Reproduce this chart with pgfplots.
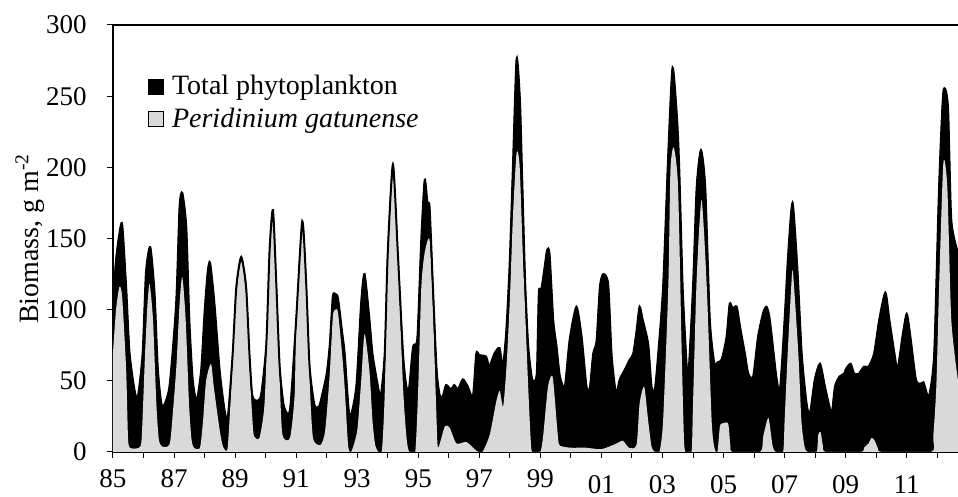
\documentclass[border=0pt]{standalone}
\usepackage{fontspec}
\setmainfont{Liberation Serif}
\usepackage{pgfplots}
\usepackage{pgfplotstable}
\pgfplotsset{compat=1.18}
\definecolor{peri}{RGB}{217,217,217}

\pgfplotstableread{
x y
85.00 105
85.10 135
85.20 152
85.30 160
85.43 116
85.54 70
85.70 44
85.81 38
85.97 69
86.08 126
86.22 144
86.36 112
86.47 58
86.61 32
86.85 46
87.07 105
87.18 172
87.27 182
87.40 158
87.50 93
87.61 51
87.74 36
87.89 58
88.00 98
88.10 126
88.18 133
88.32 105
88.49 58
88.65 30
88.76 24
88.92 69
89.04 116
89.20 137
89.36 116
89.47 69
89.56 40
89.70 36
89.85 40
90.02 75
90.13 142
90.24 170
90.35 118
90.46 60
90.60 32
90.80 30
91.00 93
91.20 162
91.33 118
91.44 60
91.60 33
91.75 32
91.85 40
92.00 55
92.10 75
92.20 109
92.28 111
92.37 108
92.50 85
92.59 69
92.75 25
92.97 46
93.13 105
93.24 125
93.40 93
93.50 69
93.68 46
93.77 39
93.90 69
94.00 140
94.17 202
94.33 140
94.50 69
94.61 46
94.70 45
94.83 74
94.97 80
95.10 150
95.21 191
95.30 175
95.37 172
95.48 116
95.60 58
95.70 40
95.80 39
95.91 47
96.07 44
96.18 47
96.30 44
96.46 51
96.62 46
96.79 39
96.90 69
97.00 68
97.22 67
97.33 60
97.49 69
97.66 73
97.77 60
97.88 84
97.99 130
98.10 200
98.22 276
98.33 247
98.40 195
98.50 120
98.60 75
98.72 52
98.82 50
98.89 58
98.95 112
99.03 114
99.14 130
99.22 142
99.30 139
99.42 93
99.53 74
99.64 53
99.80 46
99.96 79
100.18 102
100.35 81
100.51 46
100.62 45
100.73 69
100.84 78
100.95 116
101.06 125
101.22 118
101.33 69
101.44 46
101.50 41
101.60 51
101.77 58
101.93 65
102.04 69
102.15 85
102.25 102
102.35 93
102.53 76
102.64 46
102.75 44
102.86 69
103.02 116
103.19 210
103.33 270
103.48 233
103.55 198
103.66 116
103.77 69
103.84 51
104.00 116
104.12 186
104.26 212
104.40 186
104.55 93
104.70 62
104.80 63
104.94 65
105.10 81
105.20 104
105.30 101
105.43 102
105.54 88
105.70 69
105.81 55
105.97 53
106.13 81
106.30 98
106.41 102
106.50 95
106.58 81
106.74 51
106.85 44
107.00 93
107.12 140
107.26 175
107.42 128
107.56 69
107.72 34
107.83 27
107.99 51
108.16 62
108.32 46
108.49 30
108.55 27
108.65 46
108.80 53
108.95 55
109.00 58
109.16 62
109.28 55
109.43 55
109.60 60
109.75 60
109.93 69
110.10 93
110.30 112
110.43 93
110.60 69
110.70 58
110.86 81
111.00 97
111.12 81
111.30 51
111.45 48
111.55 49
111.62 44
111.73 39
111.90 69
112.06 186
112.20 253
112.35 243
112.46 163
112.68 140
}\totaltab

\pgfplotstableread{
x y
85.00 70
85.10 100
85.21 116
85.30 109
85.43 58
85.49 11
85.55 3
85.85 3
85.94 10
86.05 69
86.13 104
86.20 118
86.31 93
86.42 34
86.50 9
86.60 4
86.80 4
86.89 10
87.07 58
87.18 104
87.27 123
87.38 93
87.49 34
87.57 9
87.65 3
87.85 3
87.95 22
88.05 50
88.21 62
88.30 46
88.49 16
88.60 4
88.75 2
88.85 35
88.92 62
89.04 110
89.20 134
89.36 110
89.47 60
89.56 25
89.62 11
89.80 10
89.95 30
90.02 62
90.13 135
90.24 165
90.35 112
90.46 50
90.55 12
90.80 10
90.95 40
91.00 85
91.20 158
91.33 112
91.44 50
91.55 10
91.80 5
91.95 15
92.10 55
92.20 95
92.28 100
92.37 98
92.50 70
92.59 45
92.70 5
92.80 0
93.00 15
93.13 50
93.24 83
93.40 57
93.50 22
93.60 4
93.80 0
93.90 40
94.00 130
94.17 194
94.33 135
94.50 46
94.61 11
94.70 0
94.90 0
95.00 46
95.10 116
95.21 140
95.37 149
95.48 100
95.60 22
95.65 3
95.87 18
96.03 17
96.25 6
96.58 7
96.90 1
97.10 0
97.34 12
97.56 36
97.67 43
97.78 32
97.89 60
98.00 107
98.10 165
98.22 210
98.32 201
98.43 135
98.50 100
98.60 46
98.70 3
98.80 0
99.00 0
99.09 11
99.25 46
99.40 53
99.53 22
99.60 6
99.70 4
100.00 3
100.50 3
101.00 2
101.50 6
101.70 8
101.90 3
102.15 5
102.25 34
102.40 46
102.53 22
102.64 4
102.75 0
102.90 0
103.02 22
103.19 116
103.26 198
103.37 214
103.51 186
103.63 69
103.70 11
103.75 0
103.95 0
104.00 34
104.12 122
104.28 177
104.45 116
104.61 22
104.70 3
104.80 0
104.88 18
104.95 20
105.15 20
105.22 5
105.30 0
106.20 0
106.30 11
106.47 24
106.60 5
106.70 0
106.95 0
107.00 22
107.10 69
107.23 121
107.28 125
107.45 69
107.55 22
107.65 4
107.75 0
108.05 0
108.10 12
108.18 14
108.25 5
108.35 0
109.50 0
109.60 3
109.75 6
109.85 10
109.95 8
110.05 3
110.20 0
111.80 0
111.87 11
111.97 46
112.06 116
112.20 203
112.33 186
112.46 93
112.68 50
}\peritab

\begin{document}
\begin{tikzpicture}
\useasboundingbox (-56.5pt,-22.5pt) rectangle (422.5pt,226pt);
\begin{axis}[
  at={(0pt,0pt)}, anchor=south west,
  scale only axis, width=422.5pt, height=213.5pt,
  xmin=85, xmax=112.68, ymin=0, ymax=300,
  axis x line=box, axis y line=left,
  x axis line style={-}, y axis line style={-},
  axis line style={line width=1pt},
  xtick pos=left, ytick pos=left,
  tick align=outside, major tick length=3pt, minor tick length=3pt,
  tick style={black, line width=0.5pt},
  xtick={85,87,...,111}, minor xtick={86,88,...,112},
  xticklabels={85,87,89,91,93,95,97,99,\raisebox{-3pt}[\height][0pt]{01},\raisebox{-3pt}[\height][0pt]{03},\raisebox{-3pt}[\height][0pt]{05},\raisebox{-3pt}[\height][0pt]{07},\raisebox{-3pt}[\height][0pt]{09},\raisebox{-3pt}[\height][0pt]{11}},
  ytick={0,50,...,300},
  /pgf/number format/assume math mode=true,
  tick label style={font=\fontsize{13.5}{16}\selectfont},
  yticklabel style={inner sep=0pt, anchor=east, xshift=-10pt},
  xticklabel style={inner sep=0pt, anchor=north, yshift=-5.5pt},
  ylabel={Biomass, g m\textsuperscript{-2}},
  ylabel style={at={(axis description cs:-0.098,0.5)}, anchor=center, font=\fontsize{14}{17}\selectfont},
  legend style={at={(0.041,0.89)}, anchor=north west, draw=none, fill=none,
     font=\fontsize{14}{17}\selectfont, row sep=2pt, inner sep=0pt,
     nodes={inner sep=1.5pt},
     /tikz/every odd column/.append style={column sep=2.5pt}},
  legend cell align=left,
  legend image code/.code={\draw[#1,draw=black,line width=0.5pt] (0pt,-3.75pt) rectangle (7.5pt,3.75pt);},
]
\addplot[fill=black, draw=black, line width=0.5pt, smooth, tension=0.4] table {\totaltab} \closedcycle;
\addlegendentry{Total phytoplankton}
\addplot[fill=peri, draw=none, smooth, tension=0.4] table {\peritab} \closedcycle;
\addlegendentry{\textit{Peridinium gatunense}}
\addplot[black, line width=1pt, smooth, tension=0.4, forget plot] table {\totaltab};
\end{axis}
\end{tikzpicture}
\end{document}
